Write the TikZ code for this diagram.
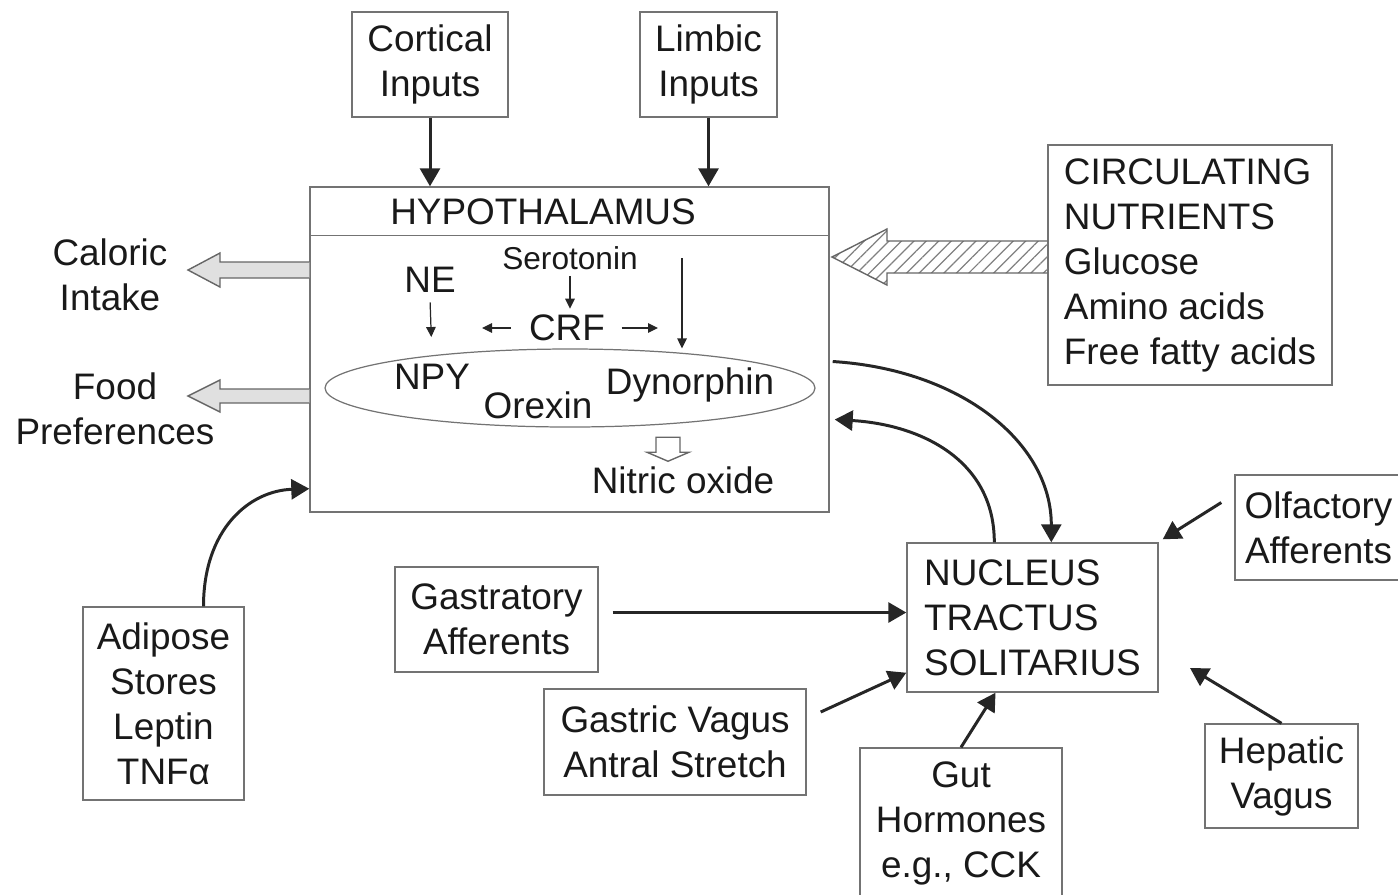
\documentclass[tikz,border=0pt]{standalone}
\usepackage{fontspec}
\setmainfont{Liberation Sans}
\usetikzlibrary{arrows.meta, calc, patterns.meta, shapes.geometric}
\tikzset{
>={Triangle[length=0.36cm, width=0.4cm]}, % filled heads on the main connectors
every node/.style={font=\fontsize{21}{25.6}\selectfont, text=black!90, align=center},
inbox/.style={draw=black!55, line width=0.8pt, inner sep=0pt}, % the grey framed boxes
boxsize/.style 2 args={minimum width=#1*0.02cm, minimum height=#2*0.02cm},
flow/.style={->, line width=1.7pt, draw=black!85},
thinflow/.style={-{Triangle[length=0.2cm, width=0.19cm]}, line width=0.7pt, draw=black!85}, % arrows inside the hypothalamus
hollow/.style={draw=black!60, fill=black!12, line width=0.8pt},
hatched/.style={draw=black!60, line width=0.8pt, pattern={Lines[angle=45, distance=5pt, line width=0.7pt]}, pattern color=black!50},
}
% block arrow pointing left: style, tail, tip, half shaft, half head, head length
\newcommand{\leftblock}[6]{%
  \draw[#1] ($(#2)+(0,-#4)$) -- ($(#3)+(#6,-#4)$) -- ($(#3)+(#6,-#5)$) -- (#3)
    -- ($(#3)+(#6,#5)$) -- ($(#3)+(#6,#4)$) -- ($(#2)+(0,#4)$);}

\begin{document}
\begin{tikzpicture}[x=0.02cm, y=-0.02cm]
  \useasboundingbox (0,0) rectangle (1398,894);

  % inputs from above
  \node[inbox, boxsize={156}{105}] (cort) at (430,64.5) {Cortical\\Inputs};
  \node[inbox, boxsize={137}{105}] (limb) at (708.5,64.5) {Limbic\\Inputs};

  % hypothalamus
  \node[inbox, boxsize={519}{325}] (hyp) at (569.5,349.5) {};
  \draw[draw=black!55, line width=0.8pt] ($(hyp.north west)+(0,49)$) -- ($(hyp.north east)+(0,49)$);
  \node (hyptitle) at (543,212) {HYPOTHALAMUS};
  \node (ne) at (430,280) {NE};
  \node[font=\fontsize{18}{22}\selectfont] (sero) at (570,258) {Serotonin};
  \node (crf) at (567,328) {CRF};
  \node[ellipse, draw=black!55, line width=0.7pt, inner sep=0pt, boxsize={490}{78}] (ell) at (570,388) {};
  \node (npy) at (432,377) {NPY};
  \node (orex) at (538,405) {Orexin};
  \node (dyn) at (690,385) {Dynorphin};
  \node (nitric) at (683,480) {Nitric oxide};
  \coordinate (crfl) at (482,328);
  \coordinate (crfr) at (658,328);
  \coordinate (dyntop) at (682,258);
  \coordinate (notip) at ($(nitric.north)+(-15,1)$);

  \draw[thinflow, shorten <=2pt, shorten >=12pt] (ne.south) -- (npy.north);
  \draw[thinflow] (sero.south) -- (sero.south |- crf.north);
  \draw[thinflow, shorten <=7pt] (crf.west) -- (crfl);
  \draw[thinflow, shorten <=6pt] (crf.east) -- (crfr);
  \draw[thinflow] (dyntop) -- (dyntop |- ell.north);
  \draw[hollow, fill=white] ($(notip)+(-12,-24)$) -- ($(notip)+(12,-24)$) -- ($(notip)+(12,-9)$) -- ($(notip)+(21,-9)$)
    -- (notip) -- ($(notip)+(-21,-9)$) -- ($(notip)+(-12,-9)$) -- cycle;

  % outputs on the left
  \node (cal) at (110,275) {Caloric\\Intake};
  \node (food) at (115,409) {Food\\Preferences};
  \coordinate (caltip) at (188,270);
  \coordinate (caltail) at (hyp.west |- caltip);
  \coordinate (foodtip) at (188,396);
  \coordinate (foodtail) at (hyp.west |- foodtip);
  \leftblock{hollow}{caltail}{caltip}{8}{17}{32}
  \leftblock{hollow}{foodtail}{foodtip}{7}{16}{32}

  % circulating nutrients
  \node[inbox, boxsize={284}{240}, align=left] (circ) at (1190,265)
    {CIRCULATING\\NUTRIENTS\\Glucose\\Amino acids\\Free fatty acids};
  \coordinate (hatchtip) at (832,257);
  \coordinate (hatchtail) at (circ.west |- hatchtip);
  \leftblock{hatched}{hatchtail}{hatchtip}{16}{28}{55}

  % nucleus tractus solitarius and its afferents
  \node[inbox, boxsize={251}{149}, align=left] (nts) at (1032.5,617.5)
    {NUCLEUS\\TRACTUS\\SOLITARIUS};
  \node[inbox, boxsize={167}{105}] (olf) at (1318.5,527.5) {Olfactory\\Afferents};
  \node[inbox, boxsize={203}{105}] (gast) at (496.5,619.5) {Gastratory\\Afferents};
  \node[inbox, boxsize={262}{106}] (gas) at (675,742) {Gastric Vagus\\Antral Stretch};
  \node[inbox, boxsize={202}{150}] (gut) at (961,823) {Gut\\Hormones\\e.g., CCK};
  \node[inbox, boxsize={153}{104}] (hep) at (1281.5,776) {Hepatic\\Vagus};
  \node[inbox, boxsize={161}{193}] (adi) at (163.5,703.5) {Adipose\\Stores\\Leptin\\TNFα};
  \coordinate (gastout) at ($(gast.east)+(14,-7)$);
  \coordinate (hepend) at (1190,668);

  \draw[flow] (cort.south) -- (cort.south |- hyp.north);
  \draw[flow] (limb.south) -- (limb.south |- hyp.north);
  \draw[flow] ($(hyp.east)+(3,12)$) .. controls +(128,8) and +(0,-100) .. ($(nts.north west)+(145,0)$);
  \draw[flow] ($(nts.north west)+(88,0)$) .. controls +(0,-83) and +(85,5) .. ($(hyp.east)+(5,70)$);
  \draw[flow] ($(adi.north)+(40,0)$) .. controls +(0,-77) and +(-60,2) .. ($(hyp.south west)+(0,-24)$);
  \draw[flow] ($(olf.west)+(-13,-25)$) -- ($(nts.north east)+(4,-3)$);
  \draw[flow] (gastout) -- (gastout -| nts.west);
  \draw[flow] ($(gas.east)+(14,-30)$) -- ($(nts.south west)+(0,-20)$);
  \draw[flow] (gut.north) -- ($(nts.south)+(-37,0)$);
  \draw[flow] (hep.north) -- (hepend);
\end{tikzpicture}
\end{document}
